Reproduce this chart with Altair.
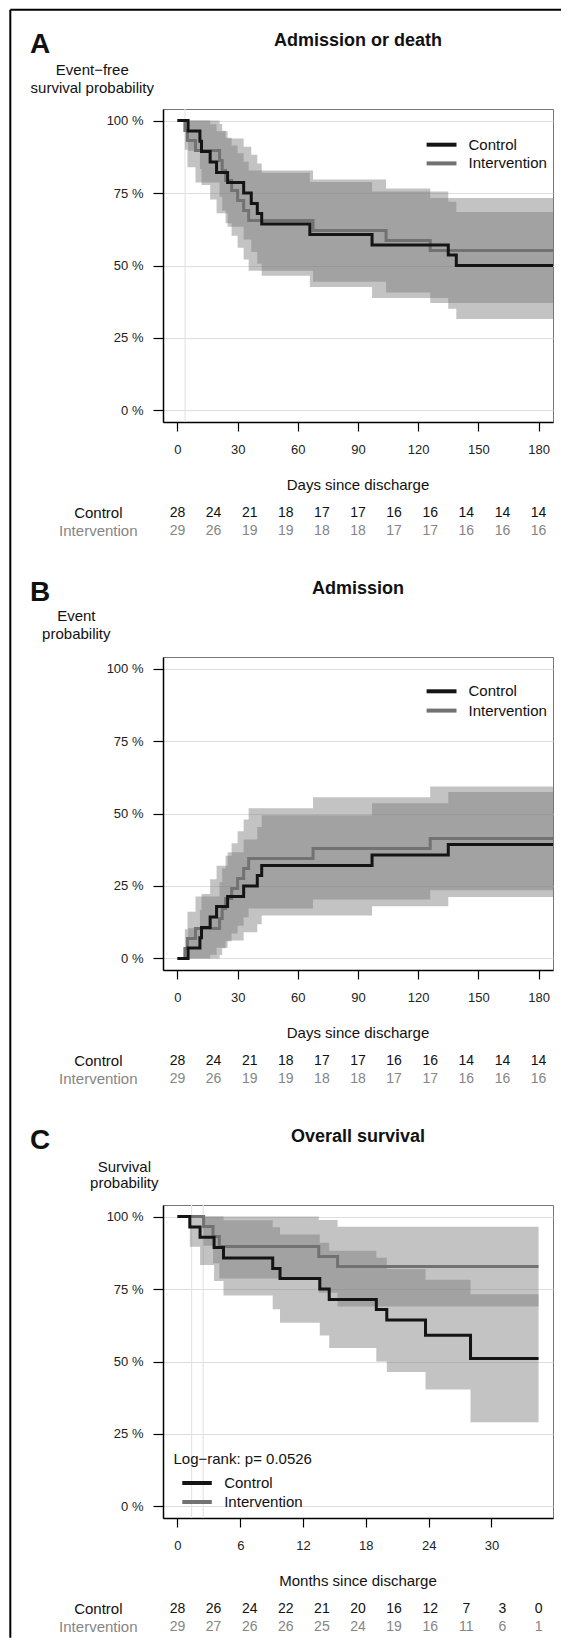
import altair as alt
import pandas as pd

FONT = "Liberation Sans"
W, H = 390, 313

# ---------------- data ----------------
PCT_TICKS = [0, 25, 50, 75, 100]
DAY_TICKS = [0, 30, 60, 90, 120, 150, 180]
MONTH_TICKS = [0, 6, 12, 18, 24, 30]
DAY_DOMAIN = [-7.2, 187.2]
MONTH_DOMAIN = [-1.38, 35.88]
DAY_END = 187.2
MONTH_END = 34.5

# Panel A: admission or death (event-free survival, %)
A_CTRL_T = [0, 5.3, 11.2, 12, 16.3, 19.5, 25, 33, 36.8, 39.8, 42, 66, 97, 135, 139]
A_CTRL_S = [100, 96.4, 92.9, 89.3, 85.7, 82.1, 78.6, 75.0, 71.4, 67.9, 64.3, 60.7, 57.1, 53.6, 50.0]
A_CTRL_LO = [100, 89.6, 83.3, 77.8, 72.8, 68.0, 63.4, 59.0, 54.7, 50.6, 46.5, 42.6, 38.8, 35.1, 31.5]
A_CTRL_HI = [100, 100, 100, 100, 98.7, 96.3, 93.8, 91.0, 88.2, 85.2, 82.0, 78.8, 75.5, 72.0, 68.5]

A_INT_T = [0, 3.7, 5, 9, 21, 22.3, 24, 27, 30, 33, 35.5, 67.6, 104, 126]
A_INT_S = [100, 96.6, 93.1, 89.7, 86.2, 82.8, 79.3, 75.9, 72.4, 69.0, 65.5, 62.1, 58.6, 55.2]
A_INT_LO = [100, 89.9, 83.9, 78.6, 73.7, 69.0, 64.6, 60.3, 56.1, 52.1, 48.2, 44.4, 40.7, 37.1]
A_INT_HI = [100, 100, 100, 100, 98.8, 96.5, 94.1, 91.4, 88.7, 85.8, 82.8, 79.7, 76.6, 73.3]

# Panel B: admission (event probability, %)
B_CTRL_T = [0, 5.3, 11.2, 12, 16.3, 19.5, 25, 33, 39.8, 42, 97, 135]
B_CTRL_S = [0, 3.6, 7.1, 10.7, 14.3, 17.9, 21.4, 25.0, 28.6, 32.1, 35.7, 39.3]
B_CTRL_LO = [0, 0, 0, 0, 1.3, 3.7, 6.2, 9.0, 11.8, 14.8, 18.0, 21.2]
B_CTRL_HI = [0, 10.4, 16.7, 22.2, 27.3, 32.0, 36.6, 41.0, 45.3, 49.4, 53.5, 57.4]

B_INT_T = [0, 3.7, 5, 9, 21, 22.3, 24, 27, 30, 33, 35.5, 67.6, 126]
B_INT_S = [0, 3.4, 6.9, 10.3, 13.8, 17.2, 20.7, 24.1, 27.6, 31.0, 34.5, 37.9, 41.4]
B_INT_LO = [0, 0, 0, 0, 1.2, 3.5, 5.9, 8.6, 11.3, 14.2, 17.2, 20.3, 23.5]
B_INT_HI = [0, 10.1, 16.1, 21.4, 26.3, 31.0, 35.4, 39.7, 43.9, 47.9, 51.8, 55.6, 59.3]

# Panel C: overall survival (%), months
C_CTRL_T = [0, 1.18, 2.16, 3.5, 4.4, 9.1, 9.8, 13.6, 14.5, 19.0, 20.0, 23.7, 28.0]
C_CTRL_S = [100, 96.4, 92.9, 89.3, 85.7, 82.1, 78.6, 75.0, 71.4, 67.9, 64.3, 59.1, 51.0]
C_CTRL_LO = [100, 89.6, 83.3, 77.8, 72.8, 68.0, 63.4, 59.0, 54.7, 50.0, 46.4, 40.3, 29.0]
C_CTRL_HI = [100, 100, 100, 100, 98.7, 96.3, 93.8, 91.0, 88.2, 85.8, 81.9, 78.2, 73.2]

C_INT_T = [0, 2.5, 3.4, 4.0, 13.5, 15.3]
C_INT_S = [100, 96.6, 93.1, 89.7, 86.2, 82.8]
C_INT_LO = [100, 89.9, 83.9, 78.6, 73.7, 69.0]
C_INT_HI = [100, 100, 100, 100, 98.8, 96.5]

# faint vertical reference lines
A_VLINES = [3.8]
C_VLINES = [1.35, 2.46]

# numbers at risk
RISK_DAYS = [0, 18, 36, 54, 72, 90, 108, 126, 144, 162, 180]
RISK_MONTHS = [0, 3.45, 6.9, 10.35, 13.8, 17.25, 20.7, 24.15, 27.6, 31.05, 34.5]
AB_RISK_CTRL = [28, 24, 21, 18, 17, 17, 16, 16, 14, 14, 14]
AB_RISK_INT = [29, 26, 19, 19, 18, 18, 17, 17, 16, 16, 16]
C_RISK_CTRL = [28, 26, 24, 22, 21, 20, 16, 12, 7, 3, 0]
C_RISK_INT = [29, 27, 26, 26, 25, 24, 19, 16, 11, 6, 1]

CTRL_COLOR = "#141414"
INT_COLOR = "#727272"
ROW2_COLOR = "#858585"
BAND_COLOR = "#7a7a7a"


def step_df(t, s, lo, hi, end):
    rows = [dict(t=a, s=b, lo=c, hi=d) for a, b, c, d in zip(t, s, lo, hi)]
    rows.append(dict(t=end, s=s[-1], lo=lo[-1], hi=hi[-1]))
    return pd.DataFrame(rows)


def text(label, x, y, size=15, color="#111", weight="normal", align="center", baseline="middle"):
    return alt.Chart(pd.DataFrame({"label": [label]})).mark_text(
        font=FONT, fontSize=size, color=color, fontWeight=weight, align=align, baseline=baseline
    ).encode(text="label:N", x=alt.value(x), y=alt.value(y))


def hrule(x1, x2, y, color, width):
    return alt.Chart(pd.DataFrame({"k": [0]})).mark_rule(color=color, strokeWidth=width).encode(
        x=alt.value(x1), x2=alt.value(x2), y=alt.value(y))


def vrule(x, y1, y2, color, width):
    return alt.Chart(pd.DataFrame({"k": [0]})).mark_rule(color=color, strokeWidth=width).encode(
        x=alt.value(x), y=alt.value(y1), y2=alt.value(y2))


def panel(letter, title, ylines, ytx, yty, xdomain, xticks, xtitle, ctrl, inter,
          risk_t, risk_c, risk_i, vlines, legend_kind, legend_y, border=False):
    xs = alt.Scale(domain=xdomain, nice=False, zero=False)
    ys = alt.Scale(domain=[-4, 104], nice=False, zero=False)
    xax = alt.Axis(values=xticks, grid=False, tickSize=9, tickColor="black", tickWidth=1.2,
                   domainColor="black", domainWidth=1.5, labelFont=FONT, labelFontSize=13,
                   labelColor="#222", labelPadding=12, labelFlush=False, title=None)
    yax = alt.Axis(values=PCT_TICKS, labelExpr="datum.value + ' %'", grid=True,
                   gridColor="#dedede", gridWidth=1.2, tickSize=10, tickColor="black",
                   tickWidth=1.2, domainColor="black", domainWidth=1.5, labelFont=FONT,
                   labelFontSize=13, labelColor="#222", labelPadding=10, title=None)
    layers = []
    if vlines:
        layers.append(alt.Chart(pd.DataFrame({"t": vlines})).mark_rule(
            color="#e4e4e4", strokeWidth=1.2).encode(
            x=alt.X("t:Q", scale=xs, axis=xax), y=alt.value(0), y2=alt.value(H)))
    for df in (ctrl, inter):
        layers.append(alt.Chart(df).mark_area(interpolate="step-after", color=BAND_COLOR,
                                              opacity=0.45).encode(
            x=alt.X("t:Q", scale=xs, axis=xax), y=alt.Y("lo:Q", scale=ys, axis=yax), y2="hi:Q"))
    for df, col in ((inter, INT_COLOR), (ctrl, CTRL_COLOR)):
        layers.append(alt.Chart(df).mark_line(interpolate="step-after", color=col,
                                              strokeWidth=3).encode(
            x=alt.X("t:Q", scale=xs, axis=xax), y=alt.Y("s:Q", scale=ys, axis=yax)))
    # legend
    if legend_kind == "topright":
        y1, y2 = legend_y
        layers += [hrule(263.6, 293.5, y1, CTRL_COLOR, 4), hrule(263.6, 293.5, y2, INT_COLOR, 4),
                   text("Control", 305.5, y1, align="left"),
                   text("Intervention", 305.5, y2, align="left")]
    else:
        layers += [text("Log\u2212rank: p= 0.0526", 10.5, 254, align="left"),
                   hrule(19.3, 48.8, 278, CTRL_COLOR, 4), hrule(19.3, 48.8, 297, INT_COLOR, 4),
                   text("Control", 61.2, 278, align="left"),
                   text("Intervention", 61.2, 297, align="left")]
    # titles
    layers += [text(letter, -133, -56.5, size=28, weight="bold", align="left", baseline="alphabetic"),
               text(title, W / 2, -63.5, size=18, weight="bold", baseline="alphabetic")]
    for line, yy in zip(ylines, yty):
        layers.append(text(line, ytx, yy))
    layers.append(text(xtitle, W / 2, H + 63))
    # numbers at risk
    layers += [text("Control", -64.7, H + 91), text("Intervention", -64.7, H + 109, color=ROW2_COLOR)]
    for vals, yy, col in ((risk_c, H + 91, "#111"), (risk_i, H + 109, ROW2_COLOR)):
        layers.append(alt.Chart(pd.DataFrame({"t": risk_t, "n": vals})).mark_text(
            font=FONT, fontSize=14, color=col, baseline="middle").encode(
            x=alt.X("t:Q", scale=xs, axis=xax), y=alt.value(yy), text="n:Q"))
    if border:
        layers += [vrule(-152.7, -99.3, 1528.7, "black", 2),
                   hrule(-152.7, 398, -99.3, "black", 2)]
    return alt.layer(*layers).properties(width=W, height=H)


pA = panel("A", "Admission or death", ["Event\u2212free", "survival probability"], -70.7, [-39.3, -21.3],
           DAY_DOMAIN, DAY_TICKS, "Days since discharge",
           step_df(A_CTRL_T, A_CTRL_S, A_CTRL_LO, A_CTRL_HI, DAY_END),
           step_df(A_INT_T, A_INT_S, A_INT_LO, A_INT_HI, DAY_END),
           RISK_DAYS, AB_RISK_CTRL, AB_RISK_INT, A_VLINES, "topright", (35.7, 54.4), border=True)

pB = panel("B", "Admission", ["Event", "probability"], -86.7, [-40.7, -22.7],
           DAY_DOMAIN, DAY_TICKS, "Days since discharge",
           step_df(B_CTRL_T, B_CTRL_S, B_CTRL_LO, B_CTRL_HI, DAY_END),
           step_df(B_INT_T, B_INT_S, B_INT_LO, B_INT_HI, DAY_END),
           RISK_DAYS, AB_RISK_CTRL, AB_RISK_INT, None, "topright", (34.3, 53.6))

pC = panel("C", "Overall survival", ["Survival", "probability"], -38.7, [-38.3, -22],
           MONTH_DOMAIN, MONTH_TICKS, "Months since discharge",
           step_df(C_CTRL_T, C_CTRL_S, C_CTRL_LO, C_CTRL_HI, MONTH_END),
           step_df(C_INT_T, C_INT_S, C_INT_LO, C_INT_HI, MONTH_END),
           RISK_MONTHS, C_RISK_CTRL, C_RISK_INT, C_VLINES, "bottomleft", None)

chart = alt.vconcat(pA, pB, pC, spacing=235, bounds="flush").properties(
    padding=0, background="white"
).configure_view(stroke="#777777", strokeWidth=1)

chart.save("out.html", embed_options={"renderer": "svg", "actions": False})
